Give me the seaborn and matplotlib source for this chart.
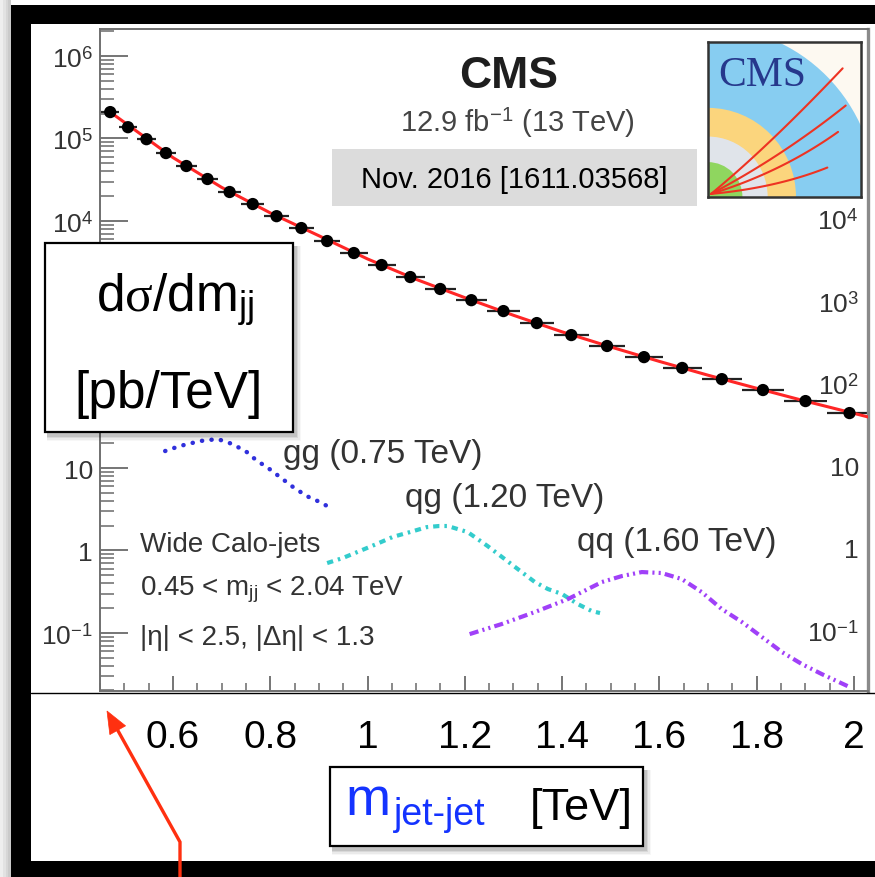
import numpy as np
import pandas as pd
import matplotlib
matplotlib.use("Agg")
import matplotlib.pyplot as plt
import matplotlib.transforms as mtransforms
import seaborn as sns
from matplotlib.patches import Rectangle, Wedge, Polygon
from matplotlib.lines import Line2D
from matplotlib.ticker import FixedLocator, FixedFormatter, LogLocator, NullFormatter, MultipleLocator

# ---------------------------------------------------------------- data
# dijet mass bin edges (TeV)
bin_edges = [0.453, 0.489, 0.526, 0.565, 0.606, 0.649, 0.693, 0.740, 0.788,
             0.838, 0.890, 0.944, 1.000, 1.058, 1.118, 1.181, 1.246, 1.313,
             1.383, 1.455, 1.530, 1.607, 1.687, 1.770, 1.856, 1.945, 2.037]
# measured cross section per bin (pb/TeV)
xsec = [2.09e5, 1.37e5, 9.8e4, 6.65e4, 4.63e4, 3.22e4, 2.24e4, 1.60e4, 1.14e4,
        8.18e3, 5.69e3, 4.07e3, 2.91e3, 2.08e3, 1.49e3, 1.09e3, 804, 575,
        411, 303, 222, 164, 120, 88.5, 65.0, 46.5]

# background fit
fit_mass = [0.471, 0.55, 0.60, 0.70, 0.80, 0.90, 1.00, 1.10, 1.20, 1.30,
            1.40, 1.50, 1.60, 1.70, 1.80, 1.90, 2.03]
fit_xsec = [2.09e5, 9.6e4, 5.86e4, 2.55e4, 1.25e4, 6.6e3, 3.45e3, 1.95e3,
            1.17e3, 715, 450, 295, 197, 134, 93, 65, 41.6]

# signal shapes
gg_mass = [0.584, 0.614, 0.656, 0.692, 0.723, 0.752, 0.773, 0.793, 0.820,
           0.847, 0.875, 0.902, 0.917]
gg_xsec = [16.1, 18.5, 21.3, 22.5, 19.5, 15.6, 12.2, 10.3, 7.78, 5.88,
           4.57, 3.87, 3.46]
qg_mass = [0.917, 0.949, 0.984, 1.019, 1.052, 1.087, 1.122, 1.147, 1.165,
           1.206, 1.247, 1.282, 1.317, 1.344, 1.371, 1.400, 1.432, 1.461, 1.478]
qg_xsec = [0.703, 0.809, 0.984, 1.20, 1.46, 1.67, 1.92, 1.98, 1.98, 1.67,
           1.13, 0.787, 0.547, 0.414, 0.340, 0.296, 0.224, 0.184, 0.174]
qq_mass = [1.210, 1.276, 1.344, 1.412, 1.482, 1.523, 1.564, 1.605, 1.646,
           1.687, 1.728, 1.770, 1.811, 1.852, 1.893, 1.934, 1.987]
qq_xsec = [0.0966, 0.128, 0.179, 0.257, 0.414, 0.489, 0.547, 0.532, 0.450,
           0.313, 0.195, 0.135, 0.0889, 0.0585, 0.0418, 0.0316, 0.0226]

signal_labels = ["gg (0.75 TeV)", "qg (1.20 TeV)", "qq (1.60 TeV)"]

x_ticks = [0.6, 0.8, 1.0, 1.2, 1.4, 1.6, 1.8, 2.0]
x_tick_text = ["0.6", "0.8", "1", "1.2", "1.4", "1.6", "1.8", "2"]
y_ticks = [0.1, 1, 10, 100, 1e3, 1e4, 1e5, 1e6]
# left-hand labels (10^2 and 10^3 sit under the axis-title box)
y_tick_text_left = [r"10$^{\mathregular{-1}}$", "1", "10", "", "",
                    r"10$^{\mathregular{4}}$", r"10$^{\mathregular{5}}$",
                    r"10$^{\mathregular{6}}$"]
# right-hand labels
y_right_ticks = [0.1, 1, 10, 100, 1e3, 1e4]
y_right_text = [r"10$^{\mathregular{-1}}$", "1", "10", r"10$^{\mathregular{2}}$",
                r"10$^{\mathregular{3}}$", r"10$^{\mathregular{4}}$"]

edges = np.array(bin_edges)
centers = 0.5 * (edges[:-1] + edges[1:])
data = pd.DataFrame({"mass": centers, "xsec": xsec})
fit = pd.DataFrame({"mass": fit_mass, "xsec": fit_xsec})

# ---------------------------------------------------------------- style
sns.set_theme(style="white")
plt.rcParams["font.family"] = ["Liberation Sans", "DejaVu Sans"]
plt.rcParams["mathtext.fontset"] = "custom"
plt.rcParams["mathtext.rm"] = "Liberation Sans"
plt.rcParams["mathtext.it"] = "Liberation Serif"
plt.rcParams["mathtext.bf"] = "Liberation Sans:bold"
plt.rcParams["mathtext.sf"] = "Liberation Sans"

W, H = 875, 878
fig = plt.figure(figsize=(W / 100, H / 100), dpi=100)
fig.patch.set_facecolor("white")


def fx(x):
    return x / W


def fy(y):
    return 1 - y / H


def rect(x0, y0, x1, y1, **kw):
    r = Rectangle((fx(x0), fy(y1)), (x1 - x0) / W, (y1 - y0) / H,
                  transform=fig.transFigure, **kw)
    fig.patches.append(r)
    return r


def ftext(x, y, s, **kw):
    return fig.text(fx(x), fy(y), s, **kw)


# frame around the slide
for i, c in enumerate(["#eeeeee", "#e2e2e2", "#d6d6d6", "#cacaca"]):
    rect(i * 2.75, 0, 11, H, facecolor=c, lw=0, zorder=-6)
rect(11, 6, W, H, facecolor="black", lw=0, zorder=-5)
rect(31, 25, W, 862, facecolor="white", lw=0, zorder=-4)

# ---------------------------------------------------------------- main axes
ax = fig.add_axes([fx(100), fy(692), 768 / W, 662 / H])
ax.set_facecolor("white")
ax.set_yscale("log")

ax.errorbar(centers, xsec, xerr=[centers - edges[:-1], edges[1:] - centers],
            fmt="none", ecolor="#222222", elinewidth=1.6, zorder=2)
sns.lineplot(data=fit, x="mass", y="xsec", color="#ff2626", lw=2.2, ax=ax,
             zorder=3)
sns.scatterplot(data=data, x="mass", y="xsec", color="black", s=78,
                edgecolor="none", ax=ax, zorder=4)

sns.lineplot(x=gg_mass, y=gg_xsec, color="#3030dc", lw=3.2, ax=ax,
             linestyle=(0, (0.05, 2.1)), dash_capstyle="round", zorder=3)
sns.lineplot(x=qg_mass, y=qg_xsec, color="#33cccc", lw=3.0, ax=ax,
             linestyle=(0, (1.5, 1.2, 0.6, 1.2)), zorder=3)
sns.lineplot(x=qq_mass, y=qq_xsec, color="#a040f8", lw=3.0, ax=ax,
             linestyle=(0, (2.2, 1.0, 0.5, 1.0, 0.5, 1.0)), zorder=3)

ax.set_xlim(0.45, 2.029)
ax.set_ylim(0.0197, 2.13e6)
ax.set_xlabel("")
ax.set_ylabel("")

ax.yaxis.set_major_locator(FixedLocator(y_ticks))
ax.yaxis.set_major_formatter(FixedFormatter(y_tick_text_left))
ax.yaxis.set_minor_locator(LogLocator(base=10, subs=np.arange(2, 10), numticks=30))
ax.yaxis.set_minor_formatter(NullFormatter())
ax.xaxis.set_major_locator(FixedLocator(x_ticks))
ax.xaxis.set_minor_locator(MultipleLocator(0.05))

ax.tick_params(axis="y", which="major", direction="in", length=20, width=1.3,
               color="#6a6a6a", labelsize=19, labelcolor="#333333", pad=5,
               left=True, right=False)
ax.tick_params(axis="y", which="minor", direction="in", length=10, width=1.1,
               color="#6a6a6a", left=True, right=False)
ax.tick_params(axis="x", which="major", direction="in", length=11, width=1.3,
               color="#6a6a6a", labelbottom=False, bottom=True, top=False)
ax.tick_params(axis="x", which="minor", direction="in", length=6, width=1.1,
               color="#6a6a6a", bottom=True, top=False)
for sp in ax.spines.values():
    sp.set_color("#707070")
    sp.set_linewidth(1.4)
ax.spines["right"].set_linewidth(2.4)
ax.spines["right"].set_color("#8a8a8a")

# large mass labels under the axis
xlab_tr = mtransforms.blended_transform_factory(ax.transData, fig.transFigure)
for v, s in zip(x_ticks, x_tick_text):
    ax.text(v, fy(748), s, transform=xlab_tr, ha="center", va="baseline",
            fontsize=28, color="black", clip_on=False)

# decade labels repeated on the right-hand side
rlab_tr = mtransforms.blended_transform_factory(ax.transAxes, ax.transData)
for v, s in zip(y_right_ticks, y_right_text):
    ax.text(0.988, v, s, transform=rlab_tr, ha="right", va="center",
            fontsize=19, color="#333333", zorder=6,
            bbox=dict(facecolor="white", edgecolor="none", pad=1.0))

# ---------------------------------------------------------------- annotations
ftext(509, 77, "CMS", ha="center", va="center", fontsize=32,
      weight="bold", color="#1e1e1e")
ftext(517, 123, r"12.9 fb$^{\mathregular{-1}}$ (13 TeV)", ha="center",
      va="center", fontsize=21, color="#444444")
rect(332, 150, 697, 207, facecolor="#dcdcdc", lw=0, zorder=2)
ftext(514, 180, "Nov. 2016 [1611.03568]", ha="center", va="center",
      fontsize=21, color="black", zorder=3)

for (x, y), s in zip([(283, 455), (405, 498), (577, 542)], signal_labels):
    ftext(x, y, s, ha="left", va="center", fontsize=24, color="#333333")

ftext(140, 545, "Wide Calo-jets", ha="left", va="center", fontsize=20,
      color="#333333")
ftext(140, 590, r"0.45 < m$_{\mathregular{jj}}$ < 2.04 TeV", ha="left",
      va="center", fontsize=20, color="#333333")
ftext(140, 638, "|η| < 2.5, |Δη| < 1.3", ha="left", va="center",
      fontsize=20, color="#333333")

# ---------------------------------------------------------------- CMS logo
lg = fig.add_axes([fx(708), fy(198), 153 / W, 155 / H], zorder=3)
lg.set_xlim(0, 1)
lg.set_ylim(0, 1)
lg.set_facecolor("#fdf9f1")
lg.set_xticks([])
lg.set_yticks([])
for sp in lg.spines.values():
    sp.set_color("#333333")
    sp.set_linewidth(1.8)
for r, c in [(1.1, "#87cdf1"), (0.575, "#fbd57d"), (0.39, "#e0e4ea"),
             (0.225, "#8fd65f")]:
    lg.add_patch(Wedge((0, 0), r, 0, 90, facecolor=c, edgecolor="none"))
tt = np.linspace(0, 1, 60)
for (ex, ey), (cx, cy) in [((0.88, 0.83), (0.40, 0.33)),
                           ((0.90, 0.59), (0.48, 0.26)),
                           ((0.85, 0.42), (0.48, 0.16)),
                           ((0.78, 0.19), (0.45, 0.06))]:
    bx = 2 * (1 - tt) * tt * cx + tt ** 2 * ex + (1 - tt) ** 2 * 0.02
    by = 2 * (1 - tt) * tt * cy + tt ** 2 * ey + (1 - tt) ** 2 * 0.02
    lg.plot(bx, by, color="#ee3322", lw=1.5)
lg.text(0.07, 0.79, "CMS", ha="left", va="center", fontsize=30,
        family="Liberation Serif", color="#26388c")

# ---------------------------------------------------------------- label boxes


def shadow_box(x0, y0, x1, y1, z):
    for i, a in enumerate([0.10, 0.07, 0.05, 0.03]):
        d = 1.5 * (i + 1)
        rect(x0 + 2, y0 + 3, x1 + 2 + d, y1 + 3 + d, facecolor="black",
             alpha=a, lw=0, zorder=z)
    rect(x0, y0, x1, y1, facecolor="white", edgecolor="black", lw=1.6,
         zorder=z + 0.1)


shadow_box(45, 244, 293, 433, 5)
ftext(175, 312, r"d$\sigma$/dm$_{\mathregular{jj}}$", ha="center",
      va="baseline", fontsize=37, color="black", zorder=6)
ftext(169, 408, "[pb/TeV]", ha="center", va="baseline", fontsize=37,
      color="black", zorder=6)

# line under the axis
fig.lines.append(Line2D([fx(31), fx(W)], [fy(694), fy(694)],
                        transform=fig.transFigure, color="black", lw=1.0,
                        zorder=5))

shadow_box(330, 768, 643, 847, 5)
ftext(345, 815, "m", ha="left", va="baseline", fontsize=39, color="#1433ff",
      zorder=6)
ftext(394, 825, "jet-jet", ha="left", va="baseline", fontsize=27,
      color="#1433ff", zorder=6)
ftext(530, 820, "[TeV]", ha="left", va="baseline", fontsize=32.5,
      color="black", zorder=6)

# red pointer arrow
tail = np.array([180.0, 843.0])
tip = np.array([107.0, 712.0])
u = (tip - tail) / np.linalg.norm(tip - tail)
perp = np.array([-u[1], u[0]])
base = tip - 22 * u
red = "#ff3010"
fig.lines.append(Line2D([fx(180), fx(180), fx(base[0])],
                        [fy(H), fy(tail[1]), fy(base[1])],
                        transform=fig.transFigure, color=red, lw=2.4,
                        zorder=7, solid_joinstyle="miter"))
head = [tip, base + 9 * perp, base - 9 * perp]
fig.patches.append(Polygon([(fx(p[0]), fy(p[1])) for p in head], closed=True,
                           transform=fig.transFigure, facecolor=red,
                           edgecolor=red, lw=0.5, zorder=7))

fig.savefig("out.png", dpi=100)
